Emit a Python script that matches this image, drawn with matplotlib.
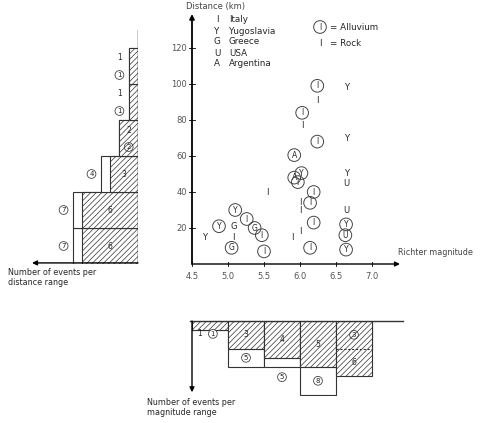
import matplotlib
matplotlib.use("Agg")
import matplotlib.pyplot as plt
import numpy as np

plt.rcParams['hatch.color'] = '#9a9a9a'
plt.rcParams['hatch.linewidth'] = 0.5
plt.rcParams['font.family'] = ['DejaVu Sans']

# ---------------- data ----------------
alluvium_country = ['Y', 'Y', 'G', 'I', 'G', 'I', 'I', 'A', 'Y', 'I', 'A', 'I', 'I', 'I',
                    'I', 'I', 'Y', 'U', 'Y', 'I', 'I']
alluvium_mag = [4.875, 5.10, 5.05, 5.26, 5.37, 5.47, 5.50, 5.92, 6.02, 5.97, 5.92, 6.24,
                6.19, 6.14, 6.19, 6.14, 6.64, 6.63, 6.64, 6.24, 6.03]
alluvium_dist = [21, 30, 9, 25, 20, 16, 7, 48, 50.5, 45.5, 60.5, 68,
                 40, 34, 23, 9, 22, 16, 8, 99, 84]

rock_country = ['Y', 'G', 'I', 'I', 'I', 'I', 'I', 'I', 'Y', 'U', 'U', 'I', 'Y', 'I', 'Y']
rock_mag = [4.68, 5.08, 5.08, 5.54, 6.00, 6.00, 6.01, 5.89, 6.64, 6.64, 6.64, 6.24, 6.64,
            6.03, 6.64]
rock_dist = [15, 21, 15, 40, 34, 29.5, 18, 14.5, 50.5, 44.5, 30, 91, 98, 77, 70]

country_codes = ['I', 'Y', 'G', 'U', 'A']
country_names = ['Italy', 'Yugoslavia', 'Greece', 'USA', 'Argentina']

dist_bins = [0, 20, 40, 60, 80, 100]
dist_rock = [6, 6, 3, 2, 1, 1]
dist_alluvium = [7, 7, 4, 2, 1, 1]

mag_bins = [4.5, 5.0, 5.5, 6.0, 6.5]
mag_rock = [1, 3, 4, 5, 6]
mag_alluvium = [1, 5, 5, 8, 3]

dist_ticks = [20, 40, 60, 80, 100, 120]
mag_ticks = [4.5, 5.0, 5.5, 6.0, 6.5, 7.0]

# ---------------- layout ----------------
W, H = 481, 423
fig = plt.figure(figsize=(W / 100, H / 100), dpi=100)
fig.patch.set_facecolor('white')
INK = '#262626'


def rect(x0, y0, x1, y1):
    return [x0 / W, 1 - y1 / H, (x1 - x0) / W, (y1 - y0) / H]


def ftext(x, y, s, **kw):
    kw.setdefault('color', INK)
    fig.text(x / W, 1 - y / H, s, **kw)


def strip(ax):
    for sp in ax.spines.values():
        sp.set_visible(False)
    ax.set_xticks([])
    ax.set_yticks([])
    ax.patch.set_alpha(0)


ax = fig.add_axes(rect(192, 14, 400, 264))
ax.set_xlim(4.5, 4.5 + 208 / 72)
ax.set_ylim(0, 250 / 1.8)
strip(ax)

axl = fig.add_axes(rect(32, 14, 138, 264))
axl.set_ylim(0, 250 / 1.8)
axl.set_xlim(106 / 9.3, 0)
strip(axl)

axb = fig.add_axes(rect(192, 321, 400, 396))
axb.set_xlim(4.5, 4.5 + 208 / 72)
axb.set_ylim(75 / 9.2, 0)
strip(axb)

arrow = dict(arrowstyle='-|>', lw=1.3, color='black', mutation_scale=7, shrinkA=0, shrinkB=0)

# main axes lines
ax.annotate('', xy=(0, 1), xytext=(0, 0), xycoords='axes fraction', arrowprops=arrow)
ax.annotate('', xy=(1, 0), xytext=(0, 0), xycoords='axes fraction',
            arrowprops=dict(arrow, lw=1.0))
for t in dist_ticks:
    ax.plot([4.46, 4.54], [t, t], color=INK, lw=0.7, clip_on=False)
    ax.text(4.43, t, str(t), ha='right', va='center', fontsize=6, color='#555555')
for t in mag_ticks:
    ax.plot([t, t], [-1.2, 1.2], color=INK, lw=0.7, clip_on=False)
    ax.text(t, -4.5, f'{t:.1f}', ha='center', va='top', fontsize=6, color='#555555')

ax.text(4.42, 142.8, 'Distance (km)', fontsize=6, color='#444444', ha='left', va='center')
ftext(473, 257, 'Richter magnitude', fontsize=5.8, color='#444444', ha='right', va='bottom')

# scatter points
for c, m, d in zip(alluvium_country, alluvium_mag, alluvium_dist):
    ax.text(m, d, c, ha='center', va='center', fontsize=5.5, color=INK,
            bbox=dict(boxstyle='circle,pad=0.24', fc='none', ec='#444444', lw=0.7))
for c, m, d in zip(rock_country, rock_mag, rock_dist):
    ax.text(m, d, c, ha='center', va='center', fontsize=6, color=INK)

# legends
for i, (c, n) in enumerate(zip(country_codes, country_names)):
    ftext(217, 20 + 11 * i, c, fontsize=6.3, ha='center', va='center')
    ftext(229, 20 + 11 * i, n, fontsize=6.3, ha='left', va='center')
ftext(320, 27, 'I', fontsize=5.5, ha='center', va='center',
      bbox=dict(boxstyle='circle,pad=0.24', fc='none', ec='#444444', lw=0.7))
ftext(330, 27, '= Alluvium', fontsize=6.3, ha='left', va='center')
ftext(320, 43, 'I', fontsize=6.3, ha='center', va='center')
ftext(330, 43, '= Rock', fontsize=6.3, ha='left', va='center')

circ = dict(boxstyle='circle,pad=0.2', fc='white', ec='#444444', lw=0.6)

# ---------------- distance histogram (left) ----------------
axl.plot([0, 0], [0, 130], color='black', lw=1.0)
axl.annotate('', xy=(106 / 9.3, 0.6), xytext=(0, 0.6), xycoords='data',
             arrowprops=dict(arrow, lw=1.0))
for b, r, a in zip(dist_bins, dist_rock, dist_alluvium):
    big = max(r, a)
    axl.barh(b, a, height=20, align='edge', color='white', edgecolor='#333333', lw=0.8)
    axl.barh(b, r, height=20, align='edge', color='white', edgecolor='#333333', lw=0.8,
             hatch='//////')
    if r >= 2:
        axl.text(r / 2, b + (14 if r == a else 10), str(r), ha='center', va='center',
                 fontsize=5.5, color=INK)
    else:
        axl.text(big + 1.0, b + 14.5, str(r), ha='center', va='center', fontsize=5.5, color=INK)
    if a > r:
        axl.text(a + 1.0, b + 10, str(a), ha='center', va='center', fontsize=5, color=INK,
                 bbox=circ)
    elif r >= 2:
        axl.text(r / 2, b + 5, str(a), ha='center', va='center', fontsize=5, color=INK,
                 bbox=dict(circ, fc='none'))
    else:
        axl.text(big + 1.0, b + 5, str(a), ha='center', va='center', fontsize=5, color=INK,
                 bbox=circ)
ftext(8, 268, 'Number of events per\ndistance range', fontsize=5.8, ha='left', va='top',
      linespacing=1.1)

# ---------------- magnitude histogram (bottom) ----------------
axb.plot([4.47, 4.5 + 211 / 72], [0, 0], color='#333333', lw=1.0, clip_on=False)
axb.annotate('', xy=(4.5, 7.75), xytext=(4.5, 0), xycoords='data',
             arrowprops=dict(arrow, lw=1.0))
for b, r, a in zip(mag_bins, mag_rock, mag_alluvium):
    axb.bar(b, a, width=0.5, bottom=0, align='edge', color='white',
            edgecolor='#333333', lw=0.8)
    axb.bar(b, r, width=0.5, bottom=0, align='edge', color='white',
            edgecolor='#333333', lw=0.8, hatch='//////')
    if a > r:
        axb.plot([b, b + 0.5], [r, r], color='#333333', lw=0.8, ls=(0, (2, 1.5)))
    elif a < r:
        axb.plot([b, b + 0.5], [a, a], color='#333333', lw=0.8, ls=(0, (2, 1.5)))
    xc = b + 0.25
    if r == 1:
        axb.text(b + 0.11, 1.4, str(r), ha='center', va='center', fontsize=5.5, color=INK)
        axb.text(b + 0.29, 1.4, str(a), ha='center', va='center', fontsize=5, color=INK,
                 bbox=circ)
    elif a > r:
        axb.text(xc, r / 2, str(r), ha='center', va='center', fontsize=5.5, color=INK)
        if a - r >= 2:
            axb.text(xc, (r + a) / 2, str(a), ha='center', va='center', fontsize=5,
                     color=INK, bbox=circ)
        else:
            axb.text(xc, a + 1.1, str(a), ha='center', va='center', fontsize=5,
                     color=INK, bbox=circ)
    else:
        axb.text(xc, a / 2, str(a), ha='center', va='center', fontsize=5, color=INK,
                 bbox=dict(circ, fc='none'))
        axb.text(xc, (a + r) / 2, str(r), ha='center', va='center', fontsize=5.5, color=INK)
ftext(147, 398, 'Number of events per\nmagnitude range', fontsize=5.8, ha='left', va='top',
      linespacing=1.1)

fig.savefig('out.png', dpi=100, facecolor='white')
